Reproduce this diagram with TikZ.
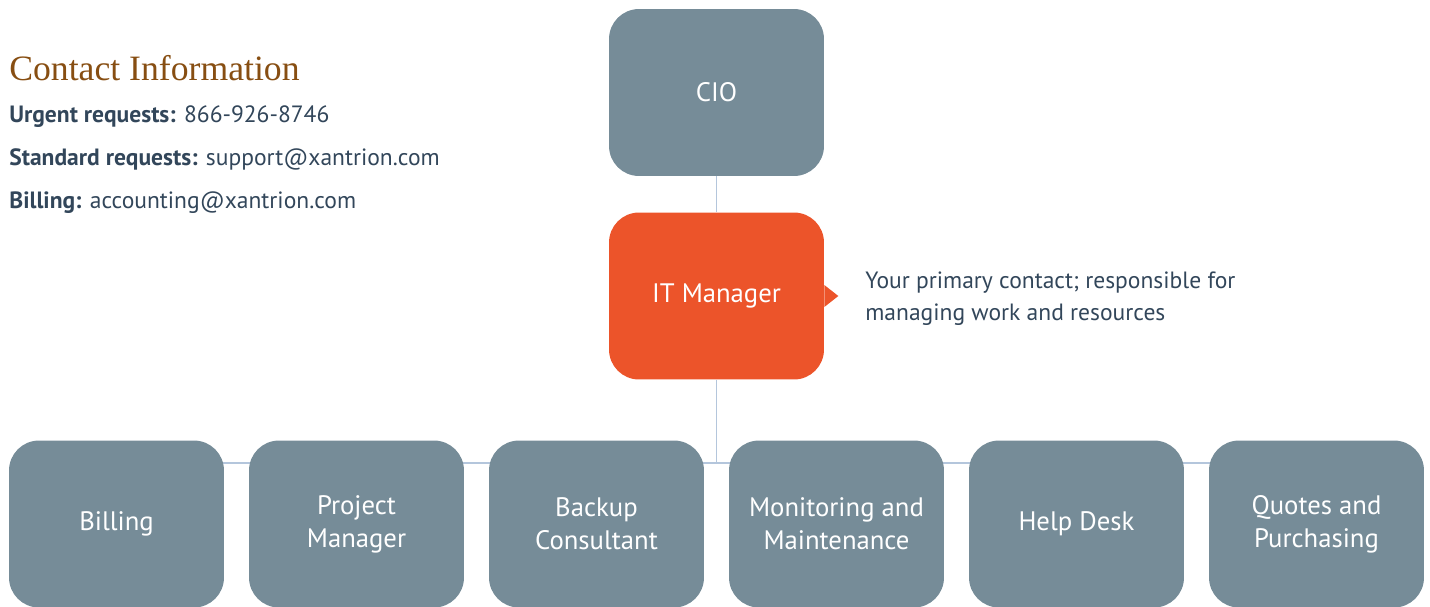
\documentclass[tikz,border=0pt]{standalone}
\usepackage{fontspec}
\setmainfont{PT Sans}
\newfontfamily\headfont{Liberation Serif}
\usetikzlibrary{backgrounds}
\definecolor{rolegray}{RGB}{118,140,152}
\definecolor{leadorange}{RGB}{236,84,42}
\definecolor{linkblue}{RGB}{180,198,220}
\definecolor{inkdark}{RGB}{50,70,90}
\definecolor{headbrown}{RGB}{135,78,18}
\begin{document}
\begin{tikzpicture}
  [x=0.02cm,y=-0.02cm,every node/.style={inner sep=0pt},
   role/.style={rounded corners=0.6cm,fill=rolegray,minimum width=4.3cm,minimum height=3.34cm,
     text=white,align=center,font=\fontsize{15.2}{18.8}\selectfont},
   info/.style={anchor=base west,text=inkdark,font=\fontsize{13.4}{16}\selectfont},
   link/.style={draw=linkblue,line width=0.7pt}]
  \useasboundingbox (0,0) rectangle (1430,606);

  % contact block
  \node[anchor=base west,text=headbrown,font=\headfont\fontsize{20.3}{24}\selectfont] (head) at (9,80) {Contact Information};
  \node[info] (urgent) at (9,122) {\textbf{Urgent requests:} 866-926-8746};
  \node[info] (standard) at (9,165) {\textbf{Standard requests:} support@xantrion.com};
  \node[info] (bill) at (9,208) {\textbf{Billing:} accounting@xantrion.com};

  % top of the chart
  \node[role] (cio) at (716.5,92.5) {CIO};
  \node[role,fill=leadorange] (itm) at (716.5,296) {IT Manager};
  \fill[leadorange] (itm.east) ++(0,-11) -- ++(14,11) -- ++(-14,11) -- cycle;
  \node[anchor=base west,align=left,text=inkdark,font=\fontsize{13.4}{18.1}\selectfont] (note) at (865,320)
    {Your primary contact; responsible for\\managing work and resources};

  % team row
  \foreach \name/\label [count=\i from 0] in {billing/Billing,pm/Project\\Manager,backup/Backup\\Consultant,
      mon/Monitoring and\\Maintenance,help/Help Desk,quotes/Quotes and\\Purchasing}
    \node[role] (\name) at (116.5+240*\i,524) {\label};

  \coordinate (hub) at (716.5,463);
  \begin{scope}[on background layer]
    \draw[link] (cio) -- (itm);
    \draw[link] (itm) -- (hub);
    \draw[link] (hub -| billing) -- (hub -| quotes);
  \end{scope}
\end{tikzpicture}
\end{document}
